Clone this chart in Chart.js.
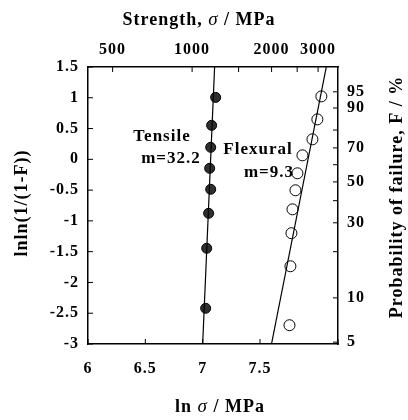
<!DOCTYPE html>
<html>
<head>
<meta charset="utf-8">
<script src="https://cdn.jsdelivr.net/npm/chart.js@4"></script>
<style>
  html, body { margin: 0; padding: 0; background: #fff; }
  canvas { display: block; }
</style>
</head>
<body>
<canvas id="weibullChart" width="408" height="420"></canvas>
<script>
// Tensile specimens: ln(strength) vs lnln(1/(1-F))
const tensileLnSigma = [7.026, 7.035, 7.052, 7.070, 7.061, 7.070, 7.078, 7.113];
const tensileLnLn = [-2.42, -1.445, -0.877, -0.487, -0.146, 0.195, 0.552, 1.006];

// Flexural specimens
const flexuralLnSigma = [7.757, 7.765, 7.774, 7.783, 7.809, 7.826, 7.870, 7.957, 8.000, 8.035];
const flexuralLnLn = [-2.695, -1.737, -1.20, -0.812, -0.503, -0.227, 0.065, 0.325, 0.649, 1.023];

// Fitted Weibull lines (end points)
const tensileFitX = [7.0, 7.104];
const tensileFitY = [-3, 1.5];
const flexuralFitX = [7.6, 8.078];
const flexuralFitY = [-3, 1.5];

// Axis ticks
const strengthTicks = [500, 1000, 2000, 3000];
const strengthMinor = [1500, 2500];
const probTicks = [95, 90, 70, 50, 30, 10, 5];
const probMinor = [80, 60, 40, 20];

const FONT = "Liberation Serif";
const tickFont = { family: FONT, size: 16, weight: "bold" };

const toPoints = (xs, ys) => xs.map((x, i) => ({ x: x, y: ys[i] }));
const probToLnLn = (p) => Math.log(-Math.log(1 - p / 100));

// the scanned original has wide lettering, widen ours a bit
const spacing = {
  id: "spacing",
  beforeUpdate(chart) { chart.ctx.letterSpacing = "1px"; },
  beforeDraw(chart) { chart.ctx.letterSpacing = "1px"; },
};

// inward tick marks on all four axes
const innerTicks = {
  id: "innerTicks",
  afterDraw(chart) {
    const { ctx, chartArea, scales } = chart;
    const len = 5;
    ctx.save();
    ctx.strokeStyle = "#000";
    ctx.lineWidth = 1;
    ctx.beginPath();
    scales.x.ticks.forEach((t) => {
      const px = scales.x.getPixelForValue(t.value);
      ctx.moveTo(px, chartArea.bottom);
      ctx.lineTo(px, chartArea.bottom - len);
    });
    scales.y.ticks.forEach((t) => {
      const py = scales.y.getPixelForValue(t.value);
      ctx.moveTo(chartArea.left, py);
      ctx.lineTo(chartArea.left + len, py);
    });
    strengthTicks.concat(strengthMinor).forEach((s) => {
      const px = scales.x2.getPixelForValue(Math.log(s));
      ctx.moveTo(px, chartArea.top);
      ctx.lineTo(px, chartArea.top + len);
    });
    probTicks.concat(probMinor).forEach((p) => {
      const py = scales.y2.getPixelForValue(probToLnLn(p));
      ctx.moveTo(chartArea.right, py);
      ctx.lineTo(chartArea.right - len, py);
    });
    ctx.stroke();
    ctx.restore();
  },
};

// titles and in-plot annotations (with italic sigma)
const drawMixed = (ctx, parts, x, y) => {
  let total = 0;
  parts.forEach((p) => {
    ctx.font = p[1];
    total += ctx.measureText(p[0]).width;
  });
  let cx = x - total / 2;
  parts.forEach((p) => {
    ctx.font = p[1];
    ctx.fillText(p[0], cx, y);
    cx += ctx.measureText(p[0]).width;
  });
};

const annotations = {
  id: "annotations",
  afterDraw(chart) {
    const { ctx } = chart;
    const bold = (s) => `bold ${s}px ${FONT}`;
    const ital = (s) => `italic ${s}px ${FONT}`;
    ctx.save();
    ctx.letterSpacing = "1px";
    ctx.fillStyle = "#000";
    ctx.textBaseline = "middle";
    ctx.textAlign = "left";

    drawMixed(ctx, [["Strength, ", bold(18)], ["\u03C3", ital(19)], [" / MPa", bold(18)]], 199, 20);
    drawMixed(ctx, [["ln ", bold(18)], ["\u03C3", ital(19)], [" / MPa", bold(18)]], 220, 407);

    // rotated axis titles
    ctx.font = bold(18);
    ctx.textAlign = "center";
    ctx.save();
    ctx.translate(22, 203);
    ctx.rotate(-Math.PI / 2);
    ctx.fillText("lnln(1/(1-F))", 0, 0);
    ctx.restore();

    ctx.save();
    ctx.translate(397, 197);
    ctx.rotate(-Math.PI / 2);
    ctx.fillText("Probability of failure, F / %", 0, 0);
    ctx.restore();

    // series labels
    ctx.font = bold(17);
    ctx.fillText("Tensile", 162, 137);
    ctx.fillText("m=32.2", 171, 159);
    ctx.fillText("Flexural", 258, 150);
    ctx.fillText("m=9.3", 269, 173);
    ctx.restore();
  },
};

const ctx = document.getElementById("weibullChart").getContext("2d");

new Chart(ctx, {
  type: "scatter",
  data: {
    datasets: [
      {
        type: "line",
        data: toPoints(tensileFitX, tensileFitY),
        borderColor: "#000",
        borderWidth: 1.2,
        pointRadius: 0,
        fill: false,
      },
      {
        type: "line",
        data: toPoints(flexuralFitX, flexuralFitY),
        borderColor: "#000",
        borderWidth: 1.2,
        pointRadius: 0,
        fill: false,
      },
      {
        data: toPoints(tensileLnSigma, tensileLnLn),
        backgroundColor: "#2f2f2f",
        borderColor: "#000",
        borderWidth: 1,
        pointRadius: 5,
      },
      {
        data: toPoints(flexuralLnSigma, flexuralLnLn),
        backgroundColor: "#fff",
        borderColor: "#000",
        borderWidth: 1,
        pointRadius: 5.5,
      },
    ],
  },
  options: {
    responsive: false,
    animation: false,
    layout: { padding: 0 },
    plugins: {
      legend: { display: false },
      tooltip: { enabled: false },
    },
    scales: {
      x: {
        type: "linear",
        position: "bottom",
        min: 6,
        max: 8.18,
        afterFit: (scale) => { scale.height = 76; },
        border: { display: true, color: "#000", width: 1.5 },
        grid: { display: false, drawTicks: false },
        ticks: {
          stepSize: 0.5,
          padding: 15,
          color: "#000",
          font: tickFont,
          maxRotation: 0,
          callback: (v) => (v > 8.1 ? "" : String(+v.toFixed(1))),
        },
      },
      x2: {
        type: "linear",
        position: "top",
        min: 6,
        max: 8.18,
        afterFit: (scale) => { scale.height = 67; },
        afterBuildTicks: (scale) => {
          scale.ticks = strengthTicks.map((s) => ({ value: Math.log(s) }));
        },
        border: { display: true, color: "#000", width: 1.5 },
        grid: { display: false, drawTicks: false },
        ticks: {
          padding: 8,
          color: "#000",
          font: tickFont,
          maxRotation: 0,
          autoSkip: false,
          callback: (v, i) => strengthTicks[i],
        },
      },
      y: {
        type: "linear",
        position: "left",
        min: -3,
        max: 1.5,
        afterFit: (scale) => { scale.width = 88; },
        border: { display: true, color: "#000", width: 1.5 },
        grid: { display: false, drawTicks: false },
        ticks: {
          stepSize: 0.5,
          padding: 9,
          color: "#000",
          font: tickFont,
          callback: (v) => String(+v.toFixed(1)),
        },
      },
      y2: {
        type: "linear",
        position: "right",
        min: -3,
        max: 1.5,
        afterFit: (scale) => { scale.width = 70; },
        afterBuildTicks: (scale) => {
          scale.ticks = probTicks.map((p) => ({ value: probToLnLn(p) }));
        },
        border: { display: true, color: "#000", width: 1.5 },
        grid: { display: false, drawTicks: false },
        ticks: {
          padding: 9,
          color: "#000",
          font: tickFont,
          autoSkip: false,
          callback: (v, i) => probTicks[i],
        },
      },
    },
  },
  plugins: [spacing, innerTicks, annotations],
});
</script>
</body>
</html>
